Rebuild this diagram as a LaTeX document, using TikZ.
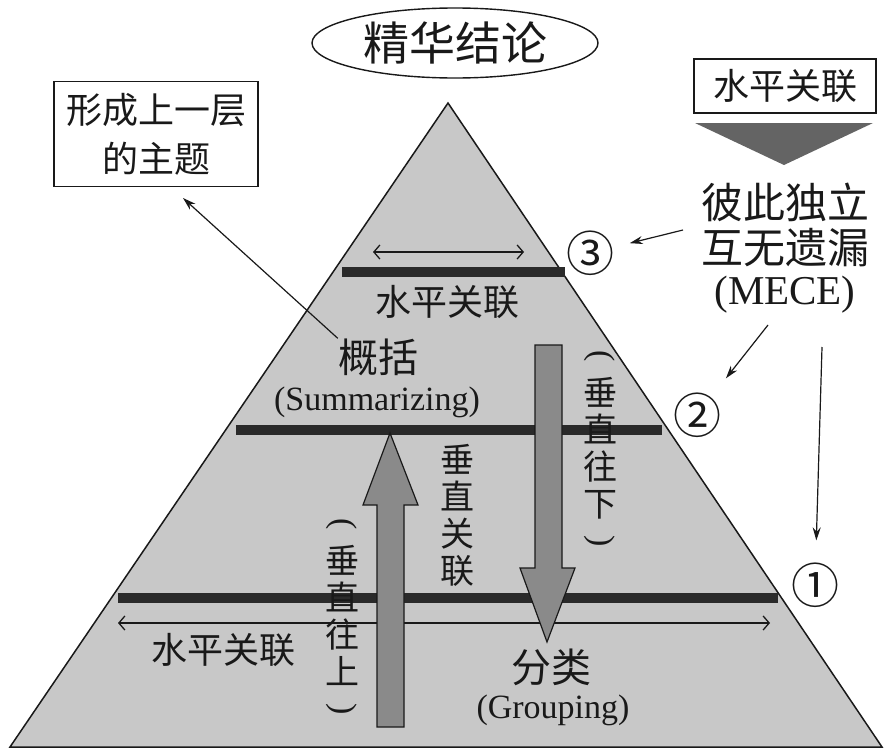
\documentclass[tikz,border=0pt]{standalone}
\usepackage{fontspec}
\setmainfont{Liberation Serif}
\newfontfamily\cjk{Noto Sans CJK SC}
\usetikzlibrary{arrows.meta,shapes.geometric}

\definecolor{pyrgray}{RGB}{200,200,200}
\definecolor{bargray}{RGB}{42,42,42}
\definecolor{blockgray}{RGB}{138,138,138}
\definecolor{wedgegray}{RGB}{100,100,100}
\definecolor{ink}{RGB}{25,25,25}

\newcommand{\zhsize}[2]{\cjk\fontsize{#1}{#2}\selectfont}
\newcommand{\ensize}[1]{\fontsize{#1}{#1}\selectfont}
\newcommand{\vopen}{\raisebox{4pt}{\rotatebox[origin=c]{-90}{\rmfamily\ensize{34}(}}}
\newcommand{\vclose}{\raisebox{4pt}{\rotatebox[origin=c]{-90}{\rmfamily\ensize{34})}}}

\tikzset{
  bar/.style={line width=10pt, draw=bargray},
  thinarrow/.style={-{Stealth[length=13pt,width=8pt]}, line width=1.2pt, draw=ink},
  harrow/.style={{Straight Barb[length=6pt,width=14pt]}-{Straight Barb[length=6pt,width=14pt]}, line width=1.3pt, draw=ink},
  blockarrow/.style={fill=blockgray, draw=ink, line width=1.2pt},
  txt/.style={inner sep=0pt, text=ink, align=center},
  frame/.style={draw=ink, line width=1.4pt, fill=white},
  circnum/.style={txt, font=\zhsize{48}{48}}
}

\begin{document}
\begin{tikzpicture}[x=1pt,y=-1pt]

	\useasboundingbox[fill=white] (0,0) rectangle (885,747);

	%pyramid
	\draw[fill=pyrgray, line width=1.5pt, draw=ink] (448,103) -- (882,747) -- (10,747) -- cycle;

	%title
	\node[ellipse, draw=ink, line width=1.4pt, txt, minimum width=286, minimum height=70, font=\zhsize{46}{46}] (title) at (455,43) {精华结论};

	%boxes
	\node[frame, txt, minimum width=204, minimum height=105, font=\zhsize{36}{49}] (topic) at (156,134) {形成上一层\\的主题};
	\node[frame, txt, minimum width=182, minimum height=54, font=\zhsize{36}{36}] (hbox) at (785,86) {水平关联};
	\fill[wedgegray] (695,123) -- (873,123) -- (784,165) -- cycle; %wedge

	%MECE
	\node[txt, font=\zhsize{42}{45}] (mecezh) at (785,225) {彼此独立\\互无遗漏};
	\node[txt, font=\ensize{41}] (mece) at (785,295) {(MECE)};

	%levels
	\draw[bar] (342,272) -- (565,272); %level 3
	\draw[bar] (236,430) -- (662,430); %level 2
	\draw[bar] (118,598) -- (778,598); %level 1

	\node[circnum] (c3) at (590,253) {③};
	\node[circnum] (c2) at (697,415) {②};
	\node[circnum] (c1) at (815,585) {①};

	%horizontal arrows
	\coordinate (ta) at (373,252);
	\coordinate (tb) at (524,252);
	\coordinate (ba) at (118,623);
	\coordinate (bb) at (770,623);
	\draw[harrow] (ta) -- (tb);
	\draw[harrow] (ba) -- (bb);

	%block arrows
	\draw[blockarrow] (377,727) -- (404,727) -- (404,505) -- (418,505) -- (390,433) -- (363,505) -- (377,505) -- cycle; %up
	\draw[blockarrow] (535,345) -- (562,345) -- (562,568) -- (575,568) -- (547,642) -- (520,568) -- (535,568) -- cycle; %down

	%labels
	\node[txt, font=\zhsize{36}{36}] (htop) at (447,302) {水平关联};
	\node[txt, font=\zhsize{40}{40}] (gk) at (378,357) {概括};
	\node[txt, font=\ensize{34}] (summ) at (377,402) {(Summarizing)};
	\node[txt, font=\zhsize{34}{37}] (vert) at (457,515) {垂\\直\\关\\联};
	\node[txt, font=\zhsize{34}{37}] (vdown) at (600,452) {\vopen\\垂\\直\\往\\下\\\vclose};
	\node[txt, font=\zhsize{34}{37}] (vup) at (342,620) {\vopen\\垂\\直\\往\\上\\\vclose};
	\node[txt, font=\zhsize{40}{40}] (fl) at (551,667) {分类};
	\node[txt, font=\ensize{34}] (grp) at (553,710) {(Grouping)};
	\node[txt, font=\zhsize{36}{36}] (hbot) at (223,650) {水平关联};

	%connectors
	\coordinate (topicend) at (183,198);
	\coordinate (m3) at (683,230);
	\coordinate (m2) at (768,325);
	\coordinate (m1) at (822,347);
	\draw[thinarrow] (gk.north west) -- (topicend);
	\draw[thinarrow, shorten >=16pt] (m3) -- (c3);
	\draw[thinarrow, shorten >=18pt] (m2) -- (c2);
	\draw[thinarrow, shorten >=22pt] (m1) -- (c1);
\end{tikzpicture}
\end{document}
